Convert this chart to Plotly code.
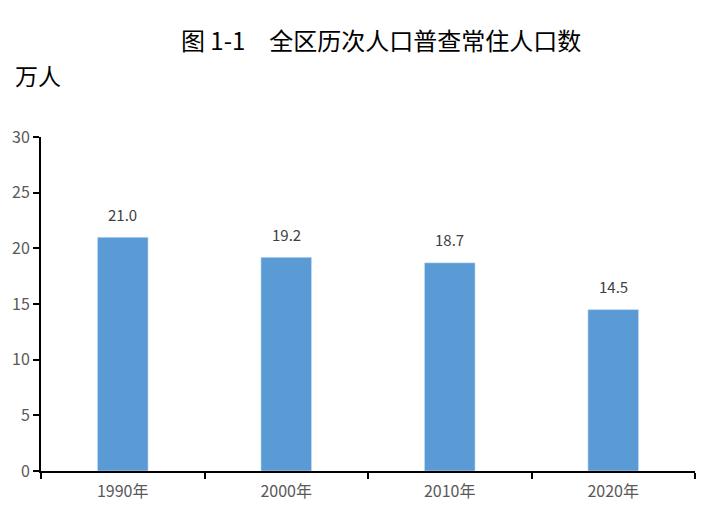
import plotly.graph_objects as go

years = ['1990年', '2000年', '2010年', '2020年']
population = [21.0, 19.2, 18.7, 14.5]

fig = go.Figure()
fig.add_trace(go.Bar(
    x=years,
    y=population,
    marker_color='#5B9BD5',
    width=0.31,
    showlegend=False,
))

# value labels above bars
for yr, v in zip(years, population):
    fig.add_annotation(
        x=yr, y=v, text=f'{v:.1f}', showarrow=False,
        yshift=23, font=dict(size=15, color='#404040'),
    )

fig.add_annotation(
    text='万人', xref='paper', yref='paper', x=-0.043, y=1.186,
    xanchor='left', yanchor='middle', showarrow=False,
    font=dict(size=23, color='black'),
)

fig.update_xaxes(
    showline=True, linecolor='black', linewidth=2, automargin=False,
    ticks='outside', tickson='boundaries', ticklen=6, tickwidth=2, tickcolor='black',
    ticklabelstandoff=5,
    tickfont=dict(size=16, color='#595959'),
)
fig.update_yaxes(
    range=[0, 30], dtick=5, automargin=False,
    showline=True, linecolor='black', linewidth=2,
    ticks='outside', ticklen=6, tickwidth=2, tickcolor='black',
    showgrid=False, zeroline=False,
    tickfont=dict(size=16, color='#595959'),
)

fig.update_layout(
    title=dict(text='图 1-1　全区历次人口普查常住人口数', x=0.530, xanchor='center',
               y=0.934, yanchor='middle', font=dict(size=24, color='black')),
    width=704, height=512,
    margin=dict(l=33, r=17, t=129, b=49),
    plot_bgcolor='white', paper_bgcolor='white',
    font=dict(family='Noto Sans CJK SC, sans-serif'),
)

fig.write_html('out.html')
